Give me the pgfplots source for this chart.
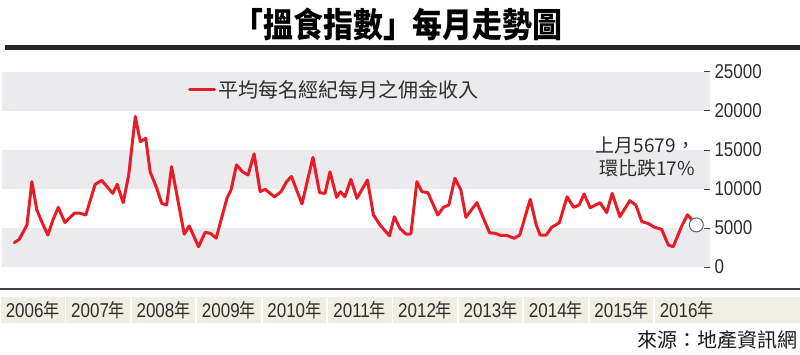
\documentclass[border=0pt]{standalone}
\usepackage{fontspec}
\usepackage{pgfplots}
\pgfplotsset{compat=1.18}
\setmainfont{Liberation Sans}
\newfontfamily\cjk{Noto Sans CJK TC}
\newfontfamily\cjkc[FakeStretch=0.85]{Noto Sans CJK TC}
\newfontfamily\titlefont[FakeStretch=0.88]{Noto Sans CJK TC}
\newfontfamily\cond[FakeStretch=0.85]{Liberation Sans}
\definecolor{bandgray}{RGB}{235,235,237}
\definecolor{beige}{RGB}{240,237,226}
\definecolor{linered}{RGB}{232,28,38}
\definecolor{txt}{RGB}{45,45,45}
\begin{document}
\begin{tikzpicture}[x=1pt,y=1pt]
\useasboundingbox (0,0) rectangle (800,354);
% title
\node[font=\titlefont\bfseries\fontsize{34}{34}\selectfont, anchor=center, inner sep=0pt] at (398,330) {「搵食指數」每月走勢圖};
\fill[black!85] (5,304) rectangle (800,309);
% bottom rule
\fill[black!75] (0,64) rectangle (800,66);
% year boxes
\foreach \i/\yr in {0/2006,1/2007,2/2008,3/2009,4/2010,5/2011,6/2012,7/2013,8/2014,9/2015}{
  \fill[beige] (1+65.4*\i,31) rectangle ++(63.5,26);
  \node[anchor=center, inner sep=0pt, text=txt] at (1+65.4*\i+31.75,44) {{\cond\fontsize{20}{20}\selectfont \yr}{\cjkc\fontsize{19}{19}\selectfont 年}};
}
\fill[beige] (655,31) rectangle (800,57);
\node[anchor=center, inner sep=0pt, text=txt] at (655+31.75,44) {{\cond\fontsize{20}{20}\selectfont 2016}{\cjkc\fontsize{19}{19}\selectfont 年}};
% source
\node[anchor=east, inner sep=0pt, text=black!90, font=\cjk\fontsize{20}{20}\selectfont] at (798,14) {來源：地產資訊網};
\begin{axis}[
  at={(2pt,87pt)}, anchor=south west,
  scale only axis, width=708pt, height=195pt,
  xmin=-2.236, xmax=126.49, ymin=0, ymax=25000,
  axis x line=none,
  axis y line*=right,
  y axis line style={draw=none},
  ytick={0,5000,10000,15000,20000,25000},
  tick align=inside,
  major tick length=6pt,
  ytick style={black!75, line width=1pt},
  yticklabel style={font=\cond\fontsize{20}{20}\selectfont, text=txt, xshift=1pt},
  scaled y ticks=false,
  /pgf/number format/1000 sep={},
  /pgf/number format/assume math mode=true,
  clip=false,
  axis on top,
  legend style={draw=none, fill=none, at={(0.2627,0.908)}, anchor=west,
    inner sep=0pt, font=\cjk\fontsize{20}{20}\selectfont, text=txt},
  legend cell align=left,
  legend image code/.code={\draw[linered, line width=3pt] (0pt,0pt) -- (25pt,0pt);},
]
\fill[bandgray] (axis cs:-2.236,0) rectangle (axis cs:126.49,5000);
\fill[bandgray] (axis cs:-2.236,10000) rectangle (axis cs:126.49,15000);
\fill[bandgray] (axis cs:-2.236,20000) rectangle (axis cs:126.49,25000);
\addplot[linered, line width=3pt, line join=round, line cap=round] table {
x y
0.0 3120
0.9 3550
2.3 5380
3.2 10940
4.1 7300
5.0 5800
6.1 4100
7.0 6000
8.0 7650
9.2 5700
10.9 6900
11.9 6900
13.0 6670
14.7 10600
15.9 11100
17.1 10100
17.9 9440
18.7 10600
19.8 8250
20.8 11800
22.0 19300
22.9 16070
23.9 16500
24.7 12200
25.9 10100
26.8 8160
27.7 7950
28.6 12860
30.9 4200
31.8 5260
33.5 2600
34.7 4450
35.7 4300
36.7 3700
38.7 8900
39.4 9870
40.4 13100
41.5 12200
42.5 11800
43.6 14500
44.7 9660
45.6 9960
47.3 9000
48.5 9660
49.5 10940
50.4 11600
52.3 8080
54.3 14060
55.5 9530
56.5 9440
57.4 12200
58.6 8930
59.3 9660
60.1 9000
61.2 11240
62.3 8800
64.2 11150
65.3 6670
66.5 5380
68.2 4000
69.1 6450
70.1 4960
71.2 4230
72.1 4230
73.2 10940
74.1 9660
75.2 9530
77.0 6670
78.0 7650
79.0 7950
80.1 11370
81.2 9870
82.1 6370
84.1 8250
86.4 4400
87.4 4320
88.4 4060
89.5 4060
90.9 3680
91.9 4100
93.8 8680
94.9 5380
95.6 4100
96.7 4100
97.7 5090
99.1 5680
100.5 9000
101.7 7650
102.7 7950
103.6 9360
104.7 7600
106.5 8250
107.7 6970
108.7 9440
110.1 6450
111.9 8500
113.0 7950
114.1 5800
115.2 5600
116.4 5090
117.7 4830
118.9 2820
119.8 2600
121.3 5170
122.4 6700
124.0 5400
};
\addlegendentry{平均每名經紀每月之佣金收入}
\addplot[only marks, mark=*, mark size=7pt, mark options={fill=white, draw=black!60, line width=1pt}, forget plot] coordinates {(124.0,5400)};
\node[anchor=east, align=right, inner sep=0pt, text=txt, font=\cjk\fontsize{19}{23}\selectfont] at (axis cs:123.8,14100) {上月5679，\\環比跌17\%};
\end{axis}
\end{tikzpicture}
\end{document}
